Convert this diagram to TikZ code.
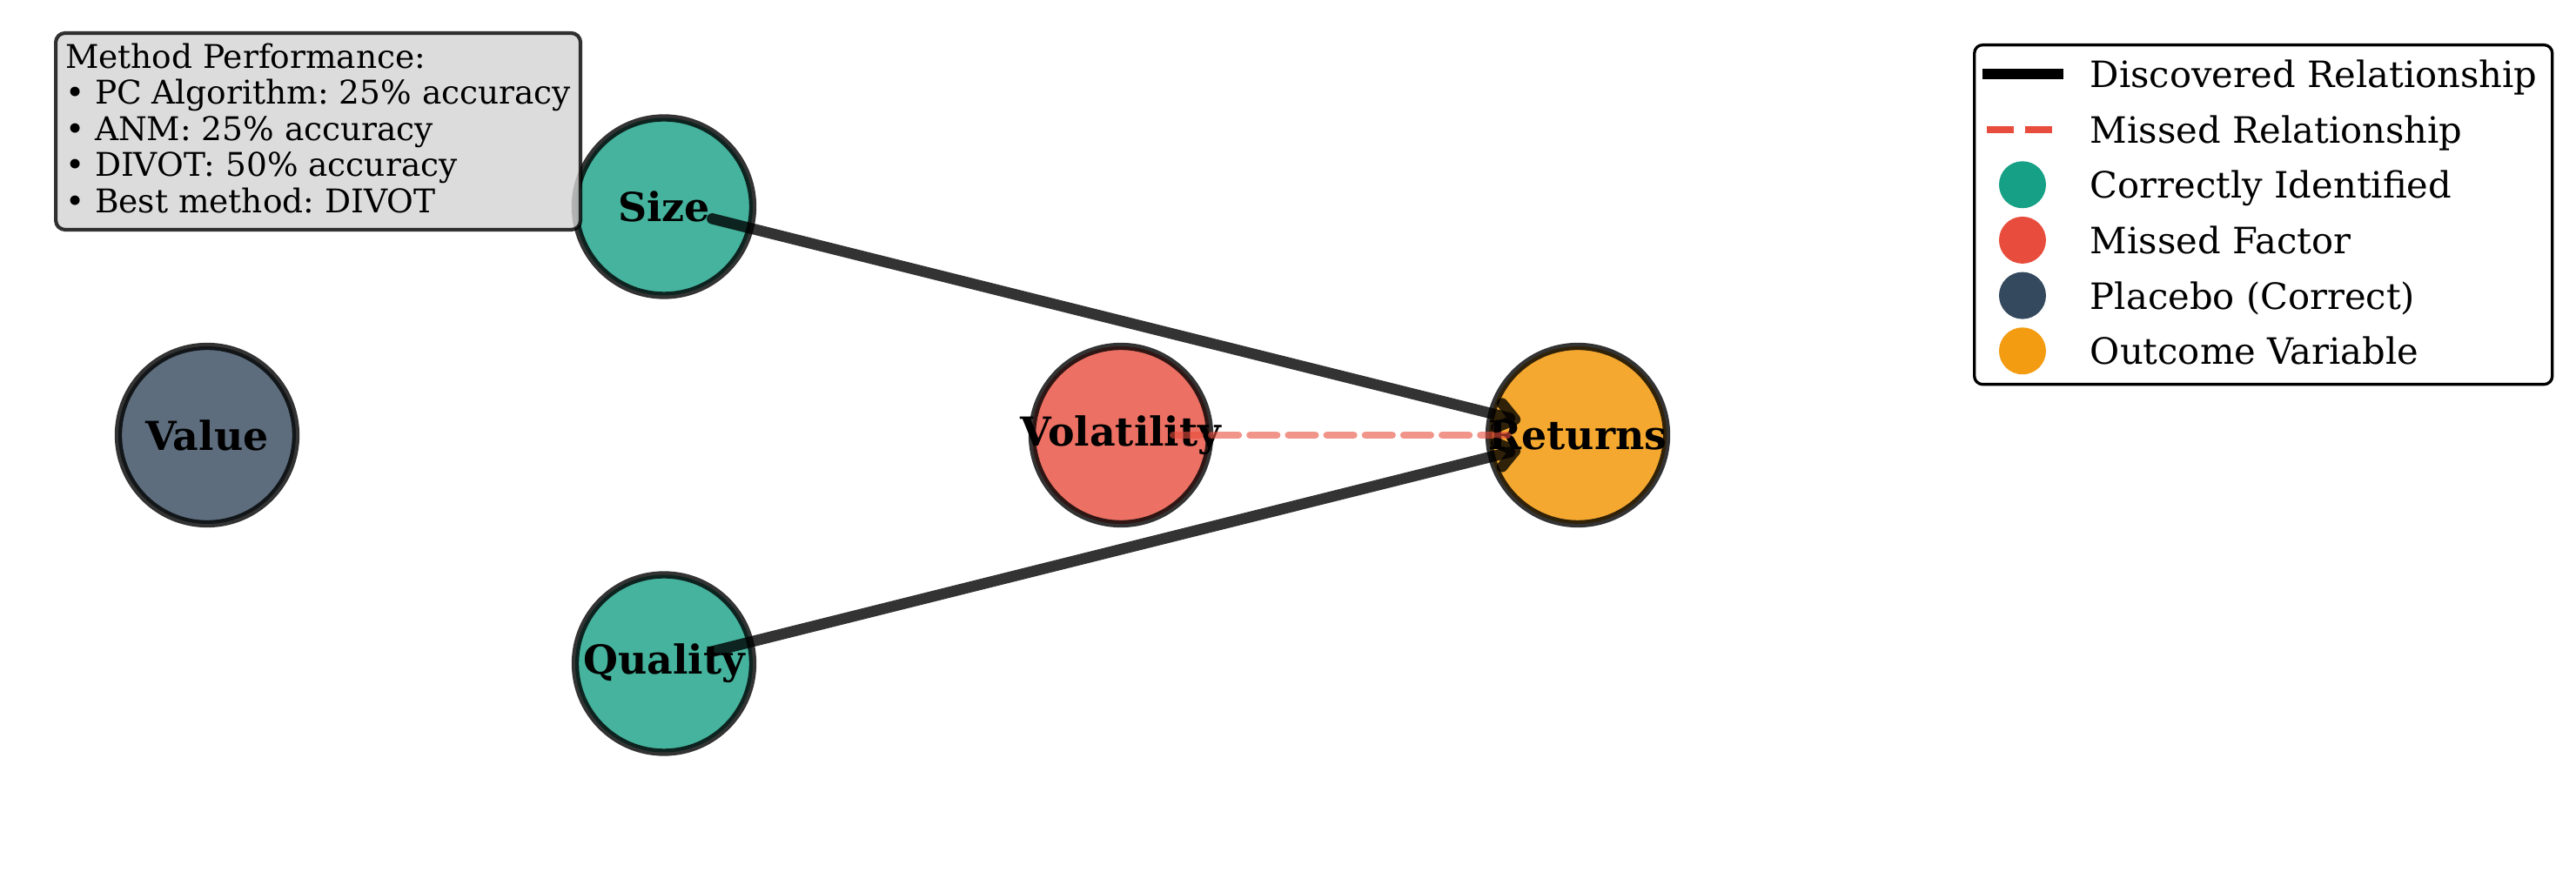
\documentclass[tikz,border=0pt]{standalone}
\usepackage{fontspec}
\setmainfont{DejaVu Serif}
\usepackage{xcolor}
\usepackage{tikz}
\usetikzlibrary{shapes.geometric, arrows.meta, positioning}
\frenchspacing
\definecolor{correct}{HTML}{16A085}
\definecolor{missed}{HTML}{E74C3C}
\definecolor{placebo}{HTML}{34495E}
\definecolor{outcome}{HTML}{F39C12}
\definecolor{boxgray}{HTML}{D3D3D3}
\newcommand{\factorname}[1]{\makebox[0pt]{#1}}
\tikzstyle{factor} = [circle, minimum size=1.727cm, inner sep=0pt, draw=black, draw opacity=0.8, line width=2bp, fill opacity=0.8, text opacity=1, font=\fontsize{11bp}{13bp}\selectfont\bfseries]
\tikzstyle{arrow} = [line width=3bp, draw=black, draw opacity=0.8, line cap=round, -{Straight Barb[length=1.6mm, width=2.4mm, round]}]
\tikzstyle{missedline} = [line width=2bp, draw=missed, draw opacity=0.6, line cap=round, dash pattern=on 7.4bp off 3.2bp]
\tikzstyle{infobox} = [rectangle, rounded corners=0.9mm, draw=black, draw opacity=0.8, line width=1bp, fill=boxgray, fill opacity=0.8, text opacity=1, align=left, minimum width=5.105cm, minimum height=1.913cm, inner sep=0pt, font=\fontsize{9bp}{9.94bp}\selectfont]
\tikzstyle{legendbox} = [rectangle, rounded corners=0.8mm, draw=black, line width=0.8bp, fill=white, minimum width=5.622cm, minimum height=3.302cm]
\tikzstyle{legendtext} = [anchor=west, inner sep=0pt, text height=0.9em, text depth=0.15em, font=\fontsize{10bp}{12bp}\selectfont]
\tikzstyle{legendmark} = [circle, minimum size=0.457cm, inner sep=0pt]

\begin{document}
\begin{tikzpicture}[node distance=4.445cm]
      \useasboundingbox (-2.015,-4.242) rectangle (23.046,4.233);

      % Nodes
      \node (value) [factor, fill=placebo] at (0,0) {\factorname{Value}};
      \node (size) [factor, fill=correct, right of=value, yshift=2.2225cm] {\factorname{Size}};
      \node (quality) [factor, fill=correct, right of=value, yshift=-2.2225cm] {\factorname{Quality}};
      \node (vol) [factor, fill=missed, right of=value, xshift=4.445cm] {\factorname{Volatility}};
      \node (returns) [factor, fill=outcome, fill opacity=0.88, right of=vol] {\factorname{Returns}};

      % Arrows
      \draw [missedline, shorten <=0.508cm, shorten >=0.6cm] (vol.center) -- (returns.center);
      \draw [arrow, shorten <=0.483cm, shorten >=0.576cm] (size.center) -- (returns.center);
      \draw [arrow, shorten <=0.483cm, shorten >=0.576cm] (quality.center) -- (returns.center);

      % Performance box
      \node (perf) [infobox, anchor=north west] at (-1.49,3.929) {Method Performance:\\
        • PC Algorithm: 25\% accuracy\\
        • ANM: 25\% accuracy\\
        • DIVOT: 50\% accuracy\\
        • Best method: DIVOT\vphantom{p}};

      % Legend
      \node (legend) [legendbox, anchor=north west] at (17.179,3.810) {};
      \coordinate (disc1) at (17.272,3.514);
      \coordinate (disc2) at (18.059,3.514);
      \coordinate (miss1) at (17.314,2.974);
      \coordinate (miss2) at (17.949,2.974);
      \draw [line width=3bp, black] (disc1) -- (disc2);
      \draw [line width=2bp, missed, dash pattern=on 7.4bp off 3.2bp] (miss1) -- (miss2);
      \node (mkcorrect) [legendmark, fill=correct] at (17.661,2.436) {};
      \node (mkmissed) [legendmark, fill=missed] at (17.661,1.897) {};
      \node (mkplacebo) [legendmark, fill=placebo] at (17.661,1.358) {};
      \node (mkoutcome) [legendmark, fill=outcome] at (17.661,0.819) {};
      \node (txtdisc) [legendtext] at (18.313,3.514) {Discovered Relationship};
      \node (txtmiss) [legendtext] at (18.313,2.974) {Missed Relationship};
      \node (txtcorrect) [legendtext] at (18.313,2.436) {Correctly Identified};
      \node (txtmissed) [legendtext] at (18.313,1.897) {Missed Factor};
      \node (txtplacebo) [legendtext] at (18.313,1.358) {Placebo (Correct)};
      \node (txtoutcome) [legendtext] at (18.313,0.819) {Outcome Variable};

\end{tikzpicture}
\end{document}
